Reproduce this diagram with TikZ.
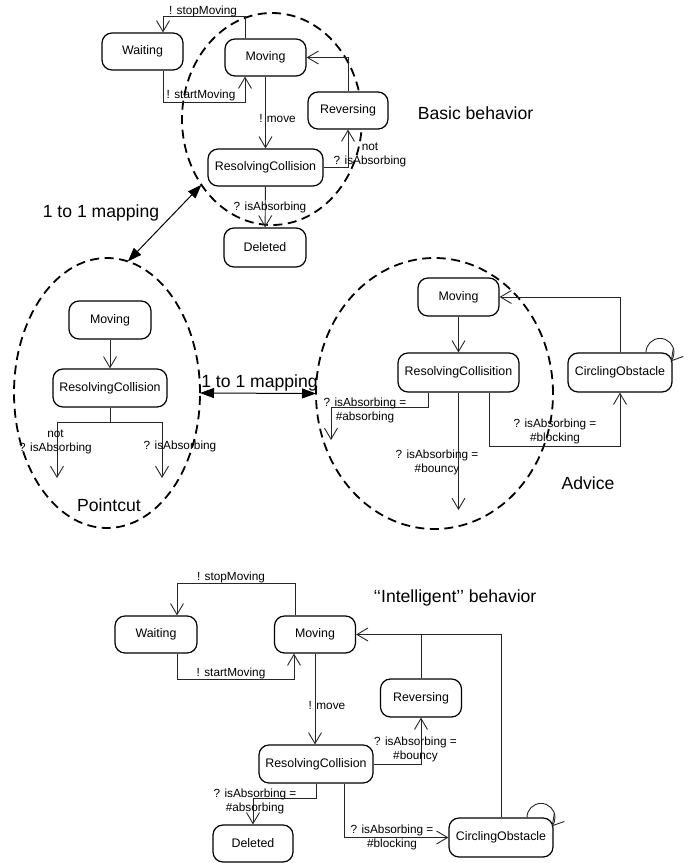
\documentclass[tikz,border=0pt]{standalone}
\usepackage{fontspec}
\setmainfont{Liberation Sans}
\usetikzlibrary{arrows.meta,shapes.geometric}
\newcommand\lblfont{\fontsize{11.8}{14}\selectfont}
\newcommand\boxfont{\fontsize{12.4}{14}\selectfont}
\newcommand\bigfont{\fontsize{17.6}{20}\selectfont}
\begin{document}
\begin{tikzpicture}[x=1pt,y=-1pt,
  box/.style={draw, line width=1.2pt, rounded corners=10pt, fill=white, minimum height=37pt, inner sep=0pt, font=\boxfont},
  region/.style={ellipse, draw, line width=1.8pt, dash pattern=on 9pt off 5.5pt, inner sep=0pt, outer sep=0pt},
  arr/.style={line width=0.9pt, draw=black!85, -{Straight Barb[length=11pt,width=13pt]}},
  plain/.style={line width=0.9pt, draw=black!85},
  maparr/.style={line width=1pt, {Triangle[length=14pt,width=10pt]}-{Triangle[length=14pt,width=10pt]}},
  lbl/.style={inner sep=0pt, font=\lblfont, align=center},
  big/.style={inner sep=0pt, font=\bigfont}]
\useasboundingbox (0,0) rectangle (695,863);

% regions
\node[region, minimum width=180pt, minimum height=212pt] (E1) at (272,119) {};
\node[region, minimum width=186pt, minimum height=270pt] (E2) at (107,393) {};
\node[region, minimum width=237pt, minimum height=271pt] (E3) at (434.5,393.5) {};

% ---------- Basic behavior ----------
\node[box, minimum width=81pt] (wt1) at (142.5,51.5) {Waiting};
\node[box, minimum width=81pt] (mv1) at (265.5,57.5) {Moving};
\node[box, minimum width=80pt] (rv1) at (348,110.5) {Reversing};
\node[box, minimum width=115pt] (rc1) at (265.5,167.5) {ResolvingCollision};
\node[box, minimum width=82pt, minimum height=39pt] (dl1) at (265,247.5) {Deleted};

\draw[arr] ([xshift=-20.5pt]mv1.north) -- ++(0,-22) -| ([xshift=20.5pt]wt1.north);
\draw[arr] ([xshift=20.5pt]wt1.south) -- ++(0,32) -| ([xshift=-20.5pt]mv1.south);
\draw[arr] (rv1.north) |- (mv1.east);
\draw[arr] (mv1) -- (rc1);
\draw[arr] (rc1.east) -| (rv1.south);
\draw[arr] (rc1) -- (dl1);

\node[lbl] (l1) at (203,11) {! stopMoving};
\node[lbl] (l2) at (201,95) {! startMoving};
\node[lbl] (l3) at (277.5,118) {! move};
\node[lbl] (l4) at (370,155) {not\\? isAbsorbing};
\node[lbl] (l5) at (270,207) {? isAbsorbing};
\node[big] (t1) at (475.5,113) {Basic behavior};

% mappings
\node[big] (t2) at (101,213) {1 to 1 mapping};
\draw[maparr] (E1.223.7) -- (E2.81.4);
\node[big] (t3) at (259.5,383) {1 to 1 mapping};
\draw[maparr] (E2.east) -- (E3.west);

% ---------- Pointcut ----------
\node[box, minimum width=82pt, minimum height=38pt] (mv2) at (110,320) {Moving};
\node[box, minimum width=114pt, minimum height=38pt] (rc2) at (110,388) {ResolvingCollision};
\draw[arr] (mv2) -- (rc2);
\coordinate (pL) at (57,478);
\coordinate (pR) at (162,478);
\draw[plain] (rc2.south) -- ++(0,15) coordinate (pJ);
\draw[arr] (pJ) -| (pL);
\draw[arr] (pJ) -| (pR);
\node[lbl] (l6) at (55.5,442) {not\\? isAbsorbing};
\node[lbl] (l7) at (180,446) {? isAbsorbing};
\node[big] (t4) at (109,505) {Pointcut};

% ---------- Advice ----------
\node[box, minimum width=81pt, minimum height=38pt] (mv3) at (458.5,297) {Moving};
\node[box, minimum width=121pt, minimum height=39pt] (rc3) at (458.5,372.5) {ResolvingCollisition};
\node[box, minimum width=104pt, minimum height=39pt] (co3) at (620,372.5) {CirclingObstacle};
\draw[arr] (mv3) -- (rc3);
\draw[arr] (co3.north) |- (mv3.east);
\draw[arr] ([xshift=26pt]co3.north) arc[start angle=180, end angle=-40, radius=14pt];
\coordinate (aA) at (331,440);
\coordinate (aB) at (458.5,510);
\draw[arr] ([xshift=-30.5pt]rc3.south) -- ++(0,15) -| (aA);
\draw[arr] (rc3.south) -- (aB);
\draw[arr] ([xshift=30.5pt]rc3.south) -- ++(0,54) -| (co3.south);
\node[lbl] (l8) at (365,410) {? isAbsorbing =\\\#absorbing};
\node[lbl] (l9) at (437,462) {? isAbsorbing =\\\#bouncy};
\node[lbl] (l10) at (555,431) {? isAbsorbing =\\\#blocking};
\node[big] (t5) at (588,483) {Advice};

% ---------- Intelligent behavior ----------
\node[big] (t6) at (455,598) {‘‘Intelligent’’ behavior};
\node[box, minimum width=82pt] (wt4) at (156,634.5) {Waiting};
\node[box, minimum width=81pt] (mv4) at (315,634.5) {Moving};
\node[box, minimum width=81pt, minimum height=38pt] (rv4) at (421,698) {Reversing};
\node[box, minimum width=114pt, minimum height=38pt] (rc4) at (316,764) {ResolvingCollision};
\node[box, minimum width=80pt] (dl4) at (253,843.5) {Deleted};
\node[box, minimum width=104pt, minimum height=39pt] (co4) at (501,837.5) {CirclingObstacle};

\draw[arr] ([xshift=-20pt]mv4.north) -- ++(0,-32) -| ([xshift=21pt]wt4.north);
\draw[arr] ([xshift=21pt]wt4.south) -- ++(0,26) -| ([xshift=-21pt]mv4.south);
\draw[arr] (mv4.south) -- (mv4.south |- rc4.north);
\draw[arr] (co4.north) |- (mv4.east);
\draw[plain] (rv4.north) -- (rv4.north |- mv4.east);
\draw[arr] (rc4.east) -| (rv4.south);
\draw[arr] (rc4.south) -- ++(0,15) -| (dl4.north);
\draw[arr] ([xshift=28pt]rc4.south) |- (co4.west);
\draw[arr] ([xshift=26pt]co4.north) arc[start angle=180, end angle=-40, radius=14pt];

\node[lbl] (l11) at (231,577) {! stopMoving};
\node[lbl] (l12) at (231,673) {! startMoving};
\node[lbl] (l13) at (327,705) {! move};
\node[lbl] (l14) at (415.5,749) {? isAbsorbing =\\\#bouncy};
\node[lbl] (l15) at (255,801) {? isAbsorbing =\\\#absorbing};
\node[lbl] (l16) at (392,837) {? isAbsorbing =\\\#blocking};
\end{tikzpicture}
\end{document}
